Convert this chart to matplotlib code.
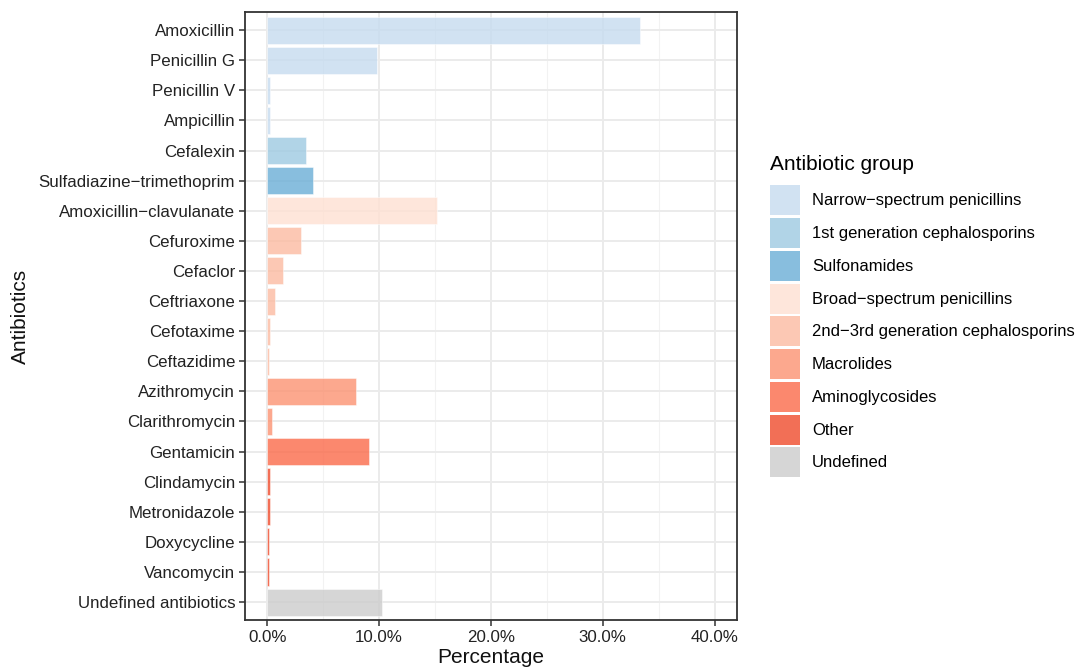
import numpy as np
import matplotlib
matplotlib.use('Agg')
import matplotlib.pyplot as plt
from matplotlib.patches import Patch
from matplotlib.ticker import MultipleLocator, FuncFormatter

plt.rcParams['font.family'] = ['Liberation Sans', 'DejaVu Sans']

antibiotics = ['Amoxicillin', 'Penicillin G', 'Penicillin V', 'Ampicillin', 'Cefalexin',
               'Sulfadiazine\u2212trimethoprim', 'Amoxicillin\u2212clavulanate', 'Cefuroxime',
               'Cefaclor', 'Ceftriaxone', 'Cefotaxime', 'Ceftazidime', 'Azithromycin',
               'Clarithromycin', 'Gentamicin', 'Clindamycin', 'Metronidazole', 'Doxycycline',
               'Vancomycin', 'Undefined antibiotics']
percent = [33.3, 9.8, 0.2, 0.2, 3.5, 4.1, 15.2, 3.0, 1.4, 0.7, 0.25, 0.15, 7.9, 0.4,
           9.1, 0.25, 0.25, 0.15, 0.15, 10.3]
group_idx = [0, 0, 0, 0, 1, 2, 3, 4, 4, 4, 4, 4, 5, 5, 6, 7, 7, 7, 7, 8]

groups = ['Narrow\u2212spectrum penicillins', '1st generation cephalosporins', 'Sulfonamides',
          'Broad\u2212spectrum penicillins', '2nd\u22123rd generation cephalosporins',
          'Macrolides', 'Aminoglycosides', 'Other', 'Undefined']
group_colors = ['#c6dbef', '#9ecae1', '#6baed6', '#fee0d2', '#fcbba1', '#fc9272',
                '#fb6a4a', '#ef4b2c', '#cccccc']

fig = plt.figure(figsize=(10.79, 6.69), dpi=100)
ax = fig.add_axes([0.227, 0.073, 0.456, 0.909])

y = np.arange(len(antibiotics))
cols = [group_colors[g] for g in group_idx]
ax.barh(y, percent, height=0.9, color=cols, alpha=0.8, edgecolor='white',
        linewidth=0.4, zorder=3)

ax.set_xlim(-2, 42)
ax.set_ylim(len(antibiotics) - 0.4, -0.6)
ax.set_yticks(y)
ax.set_yticklabels(antibiotics)
ax.xaxis.set_major_locator(MultipleLocator(10))
ax.xaxis.set_minor_locator(MultipleLocator(5))
ax.xaxis.set_major_formatter(FuncFormatter(lambda v, p: '%.1f%%' % v))
ax.tick_params(axis='both', which='major', labelsize=12.2, length=4, width=1.1,
               color='#333333', labelcolor='#222222', pad=3)
ax.tick_params(axis='x', which='minor', length=0)
ax.grid(which='major', color='#ebebeb', linewidth=1.4, zorder=0)
ax.grid(which='minor', axis='x', color='#f2f2f2', linewidth=0.8, zorder=0)
ax.set_axisbelow(True)
for s in ax.spines.values():
    s.set_color('#333333')
    s.set_linewidth(1.3)

ax.set_xlabel('Percentage', fontsize=15, color='#111111', labelpad=2)
ax.set_ylabel('Antibiotics', fontsize=15, color='#111111', labelpad=6)

handles = [Patch(facecolor=c, alpha=0.8, edgecolor='none') for c in group_colors]
leg = fig.legend(handles, groups, loc='upper left', bbox_to_anchor=(0.714, 0.768),
                 frameon=False, fontsize=12.0, title='Antibiotic group', title_fontsize=15,
                 handlelength=1.8, handleheight=2.4, labelspacing=0.16,
                 handletextpad=0.7, borderaxespad=0, borderpad=0)
leg._legend_box.align = 'left'
leg._legend_box.sep = 8

fig.savefig('out.png', dpi=100)
